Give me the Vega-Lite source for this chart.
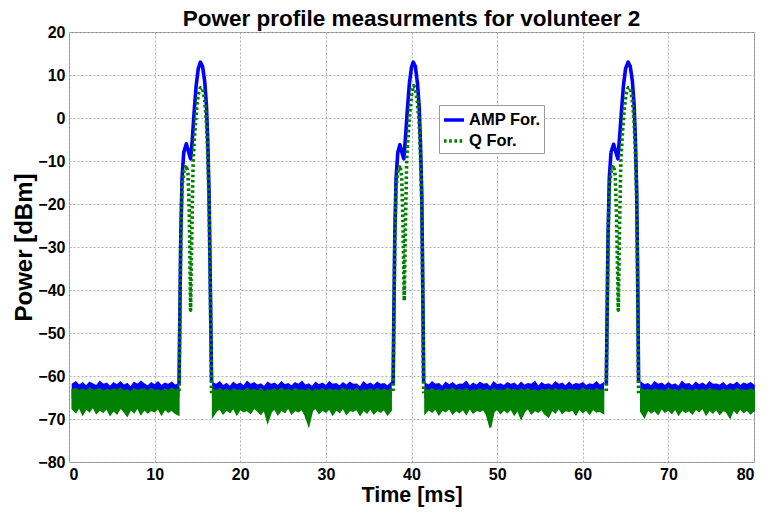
{
"$schema": "https://vega.github.io/schema/vega-lite/v6.json",
"width": 685,
"height": 430,
"autosize": {"type": "none"},
"padding": {"left": 69, "top": 32, "right": 15, "bottom": 55},
"background": "white",
"title": {"text": "Power profile measurments for volunteer 2", "font": "Liberation Sans", "fontSize": 22.5, "fontWeight": "bold", "color": "black", "anchor": "middle", "offset": -6},
"config": {
  "view": {"stroke": "#8a8a8a", "strokeWidth": 1},
  "axis": {"domain": false, "ticks": false, "grid": true, "gridColor": "#b0b0b0", "gridDash": [2, 2], "gridWidth": 1, "labelFont": "Liberation Sans", "labelFontSize": 16, "labelFontWeight": "bold", "labelColor": "black", "titleFont": "Liberation Sans", "titleFontSize": 22, "titleFontWeight": "bold", "titleColor": "black"},
  "legend": {"orient": "none", "legendX": 370, "legendY": 73, "fillColor": "white", "strokeColor": "#9a9a9a", "padding": 3, "labelFont": "Liberation Sans", "labelFontSize": 16.5, "labelFontWeight": "bold", "labelColor": "black", "symbolType": "stroke", "symbolSize": 400, "symbolStrokeWidth": 3.5, "rowPadding": 0, "labelOffset": 3}
},
"datasets": {
"noise": [
{"seg":1,"t":0.4,"bh":-61.9,"gh":-63.2,"gl":-67.6},{"seg":1,"t":0.8,"bh":-61.4,"gh":-63.0,"gl":-68.4},{"seg":1,"t":1.2,"bh":-62.2,"gh":-63.5,"gl":-67.1},{"seg":1,"t":1.6,"bh":-61.6,"gh":-63.1,"gl":-68.9},{"seg":1,"t":2.0,"bh":-62.4,"gh":-63.6,"gl":-67.5},{"seg":1,"t":2.4,"bh":-61.5,"gh":-62.9,"gl":-68.2},{"seg":1,"t":2.8,"bh":-61.9,"gh":-63.4,"gl":-67.0},{"seg":1,"t":3.2,"bh":-62.3,"gh":-63.3,"gl":-68.6},{"seg":1,"t":3.6,"bh":-61.3,"gh":-63.0,"gl":-67.8},{"seg":1,"t":4.0,"bh":-62.0,"gh":-63.7,"gl":-68.3},{"seg":1,"t":4.4,"bh":-61.7,"gh":-63.2,"gl":-67.4},{"seg":1,"t":4.8,"bh":-62.5,"gh":-63.5,"gl":-69.0},{"seg":1,"t":5.2,"bh":-61.6,"gh":-63.1,"gl":-67.9},{"seg":1,"t":5.6,"bh":-62.1,"gh":-63.4,"gl":-68.7},{"seg":1,"t":6.0,"bh":-61.4,"gh":-62.9,"gl":-67.3},{"seg":1,"t":6.4,"bh":-62.2,"gh":-63.6,"gl":-68.1},{"seg":1,"t":6.8,"bh":-61.8,"gh":-63.3,"gl":-69.2},{"seg":1,"t":7.2,"bh":-62.6,"gh":-63.8,"gl":-67.6},{"seg":1,"t":7.6,"bh":-61.5,"gh":-63.0,"gl":-68.4},{"seg":1,"t":8.0,"bh":-62.0,"gh":-63.5,"gl":-67.2},{"seg":1,"t":8.4,"bh":-61.3,"gh":-63.2,"gl":-68.8},{"seg":1,"t":8.8,"bh":-61.9,"gh":-63.1,"gl":-67.7},{"seg":1,"t":9.2,"bh":-62.4,"gh":-63.6,"gl":-68.5},{"seg":1,"t":9.6,"bh":-61.6,"gh":-63.0,"gl":-67.9},{"seg":1,"t":10.0,"bh":-62.1,"gh":-63.4,"gl":-68.2},{"seg":1,"t":10.4,"bh":-61.4,"gh":-63.3,"gl":-67.4},{"seg":1,"t":10.8,"bh":-62.3,"gh":-63.7,"gl":-68.9},{"seg":1,"t":11.2,"bh":-61.7,"gh":-63.1,"gl":-67.6},{"seg":1,"t":11.6,"bh":-62.0,"gh":-63.5,"gl":-68.3},{"seg":1,"t":12.0,"bh":-61.5,"gh":-62.9,"gl":-67.8},{"seg":1,"t":12.4,"bh":-62.2,"gh":-63.4,"gl":-68.6},{"seg":1,"t":12.8,"bh":-61.8,"gh":-63.2,"gl":-69.0},
{"seg":2,"t":16.8,"bh":-61.6,"gh":-63.1,"gl":-69.3},{"seg":2,"t":17.2,"bh":-62.0,"gh":-63.5,"gl":-68.1},{"seg":2,"t":17.6,"bh":-61.4,"gh":-63.0,"gl":-67.5},{"seg":2,"t":18.0,"bh":-62.3,"gh":-63.6,"gl":-68.7},{"seg":2,"t":18.4,"bh":-61.8,"gh":-63.2,"gl":-67.8},{"seg":2,"t":18.8,"bh":-62.5,"gh":-63.8,"gl":-68.4},{"seg":2,"t":19.2,"bh":-61.5,"gh":-63.1,"gl":-67.3},{"seg":2,"t":19.6,"bh":-62.1,"gh":-63.4,"gl":-68.9},{"seg":2,"t":20.0,"bh":-61.7,"gh":-63.3,"gl":-67.6},{"seg":2,"t":20.4,"bh":-62.4,"gh":-63.7,"gl":-68.2},{"seg":2,"t":20.8,"bh":-61.3,"gh":-62.9,"gl":-67.9},{"seg":2,"t":21.2,"bh":-62.0,"gh":-63.5,"gl":-68.6},{"seg":2,"t":21.6,"bh":-61.6,"gh":-63.2,"gl":-67.4},{"seg":2,"t":22.0,"bh":-62.2,"gh":-63.6,"gl":-68.0},{"seg":2,"t":22.4,"bh":-61.9,"gh":-63.0,"gl":-68.8},{"seg":2,"t":22.8,"bh":-62.5,"gh":-63.8,"gl":-67.7},{"seg":2,"t":23.2,"bh":-61.5,"gh":-63.3,"gl":-70.6},{"seg":2,"t":23.6,"bh":-62.0,"gh":-63.4,"gl":-68.3},{"seg":2,"t":24.0,"bh":-61.7,"gh":-63.1,"gl":-67.5},{"seg":2,"t":24.4,"bh":-62.3,"gh":-63.6,"gl":-68.9},{"seg":2,"t":24.8,"bh":-61.4,"gh":-62.9,"gl":-67.8},{"seg":2,"t":25.2,"bh":-62.1,"gh":-63.5,"gl":-68.4},{"seg":2,"t":25.6,"bh":-61.8,"gh":-63.2,"gl":-67.2},{"seg":2,"t":26.0,"bh":-62.4,"gh":-63.7,"gl":-68.7},{"seg":2,"t":26.4,"bh":-61.6,"gh":-63.0,"gl":-67.9},{"seg":2,"t":26.8,"bh":-62.0,"gh":-63.4,"gl":-68.2},{"seg":2,"t":27.2,"bh":-61.3,"gh":-63.3,"gl":-67.6},{"seg":2,"t":27.6,"bh":-62.2,"gh":-63.6,"gl":-69.1},{"seg":2,"t":28.0,"bh":-61.9,"gh":-63.1,"gl":-71.4},{"seg":2,"t":28.4,"bh":-62.5,"gh":-63.8,"gl":-68.0},{"seg":2,"t":28.8,"bh":-61.5,"gh":-63.2,"gl":-67.4},{"seg":2,"t":29.2,"bh":-62.1,"gh":-63.5,"gl":-68.6},{"seg":2,"t":29.6,"bh":-61.7,"gh":-63.0,"gl":-67.8},{"seg":2,"t":30.0,"bh":-62.3,"gh":-63.7,"gl":-68.3},{"seg":2,"t":30.4,"bh":-61.4,"gh":-63.1,"gl":-67.5},{"seg":2,"t":30.8,"bh":-62.0,"gh":-63.4,"gl":-68.9},{"seg":2,"t":31.2,"bh":-61.8,"gh":-63.3,"gl":-67.7},{"seg":2,"t":31.6,"bh":-62.4,"gh":-63.6,"gl":-68.4},{"seg":2,"t":32.0,"bh":-61.6,"gh":-62.9,"gl":-67.3},{"seg":2,"t":32.4,"bh":-62.2,"gh":-63.5,"gl":-68.8},{"seg":2,"t":32.8,"bh":-61.5,"gh":-63.2,"gl":-67.9},{"seg":2,"t":33.2,"bh":-62.0,"gh":-63.6,"gl":-68.1},{"seg":2,"t":33.6,"bh":-61.9,"gh":-63.0,"gl":-67.6},{"seg":2,"t":34.0,"bh":-62.6,"gh":-63.8,"gl":-69.0},{"seg":2,"t":34.4,"bh":-61.4,"gh":-63.3,"gl":-67.8},{"seg":2,"t":34.8,"bh":-62.1,"gh":-63.4,"gl":-68.5},{"seg":2,"t":35.2,"bh":-61.7,"gh":-63.1,"gl":-67.4},{"seg":2,"t":35.6,"bh":-62.3,"gh":-63.7,"gl":-68.7},{"seg":2,"t":36.0,"bh":-61.5,"gh":-63.0,"gl":-67.9},{"seg":2,"t":36.4,"bh":-62.0,"gh":-63.5,"gl":-68.3},{"seg":2,"t":36.8,"bh":-61.8,"gh":-63.2,"gl":-67.6},{"seg":2,"t":37.2,"bh":-62.4,"gh":-63.6,"gl":-68.9},{"seg":2,"t":37.6,"bh":-61.6,"gh":-63.1,"gl":-68.0},
{"seg":3,"t":41.6,"bh":-61.7,"gh":-63.2,"gl":-68.6},{"seg":3,"t":42.0,"bh":-62.2,"gh":-63.5,"gl":-67.7},{"seg":3,"t":42.4,"bh":-61.4,"gh":-63.0,"gl":-68.3},{"seg":3,"t":42.8,"bh":-62.0,"gh":-63.6,"gl":-67.5},{"seg":3,"t":43.2,"bh":-61.8,"gh":-63.3,"gl":-68.9},{"seg":3,"t":43.6,"bh":-62.5,"gh":-63.7,"gl":-67.8},{"seg":3,"t":44.0,"bh":-61.5,"gh":-63.1,"gl":-68.2},{"seg":3,"t":44.4,"bh":-62.1,"gh":-63.4,"gl":-67.4},{"seg":3,"t":44.8,"bh":-61.6,"gh":-62.9,"gl":-68.7},{"seg":3,"t":45.2,"bh":-62.3,"gh":-63.6,"gl":-67.9},{"seg":3,"t":45.6,"bh":-61.9,"gh":-63.2,"gl":-68.4},{"seg":3,"t":46.0,"bh":-62.0,"gh":-63.5,"gl":-67.6},{"seg":3,"t":46.4,"bh":-61.3,"gh":-63.0,"gl":-68.8},{"seg":3,"t":46.8,"bh":-62.4,"gh":-63.8,"gl":-67.3},{"seg":3,"t":47.2,"bh":-61.7,"gh":-63.3,"gl":-68.5},{"seg":3,"t":47.6,"bh":-62.2,"gh":-63.4,"gl":-67.9},{"seg":3,"t":48.0,"bh":-61.5,"gh":-63.1,"gl":-68.1},{"seg":3,"t":48.4,"bh":-62.0,"gh":-63.6,"gl":-67.7},{"seg":3,"t":48.8,"bh":-61.8,"gh":-63.2,"gl":-69.0},{"seg":3,"t":49.2,"bh":-62.6,"gh":-63.7,"gl":-72.0},{"seg":3,"t":49.6,"bh":-61.4,"gh":-63.0,"gl":-68.3},{"seg":3,"t":50.0,"bh":-62.1,"gh":-63.5,"gl":-67.6},{"seg":3,"t":50.4,"bh":-61.9,"gh":-63.3,"gl":-68.6},{"seg":3,"t":50.8,"bh":-62.3,"gh":-63.6,"gl":-67.8},{"seg":3,"t":51.2,"bh":-61.6,"gh":-62.9,"gl":-68.4},{"seg":3,"t":51.6,"bh":-62.0,"gh":-63.4,"gl":-67.5},{"seg":3,"t":52.0,"bh":-61.7,"gh":-63.2,"gl":-68.9},{"seg":3,"t":52.4,"bh":-62.4,"gh":-63.7,"gl":-67.7},{"seg":3,"t":52.8,"bh":-61.5,"gh":-63.1,"gl":-69.8},{"seg":3,"t":53.2,"bh":-62.2,"gh":-63.5,"gl":-68.2},{"seg":3,"t":53.6,"bh":-61.8,"gh":-63.0,"gl":-67.4},{"seg":3,"t":54.0,"bh":-62.0,"gh":-63.6,"gl":-68.7},{"seg":3,"t":54.4,"bh":-61.3,"gh":-63.3,"gl":-67.9},{"seg":3,"t":54.8,"bh":-62.5,"gh":-63.8,"gl":-68.3},{"seg":3,"t":55.2,"bh":-61.6,"gh":-63.2,"gl":-67.6},{"seg":3,"t":55.6,"bh":-62.1,"gh":-63.4,"gl":-68.8},{"seg":3,"t":56.0,"bh":-61.9,"gh":-63.1,"gl":-69.4},{"seg":3,"t":56.4,"bh":-62.3,"gh":-63.6,"gl":-67.8},{"seg":3,"t":56.8,"bh":-61.4,"gh":-63.0,"gl":-68.5},{"seg":3,"t":57.2,"bh":-62.0,"gh":-63.5,"gl":-67.3},{"seg":3,"t":57.6,"bh":-61.7,"gh":-63.2,"gl":-68.6},{"seg":3,"t":58.0,"bh":-62.4,"gh":-63.7,"gl":-67.9},{"seg":3,"t":58.4,"bh":-61.5,"gh":-63.1,"gl":-68.2},{"seg":3,"t":58.8,"bh":-62.2,"gh":-63.4,"gl":-67.7},{"seg":3,"t":59.2,"bh":-61.8,"gh":-63.3,"gl":-68.9},{"seg":3,"t":59.6,"bh":-62.0,"gh":-63.6,"gl":-67.5},{"seg":3,"t":60.0,"bh":-61.6,"gh":-62.9,"gl":-68.4},{"seg":3,"t":60.4,"bh":-62.3,"gh":-63.5,"gl":-67.8},{"seg":3,"t":60.8,"bh":-61.9,"gh":-63.2,"gl":-68.7},{"seg":3,"t":61.2,"bh":-62.1,"gh":-63.6,"gl":-67.6},{"seg":3,"t":61.6,"bh":-61.4,"gh":-63.0,"gl":-68.3},{"seg":3,"t":62.0,"bh":-62.2,"gh":-63.4,"gl":-68.1},{"seg":3,"t":62.4,"bh":-61.7,"gh":-63.3,"gl":-68.6},
{"seg":4,"t":66.8,"bh":-61.5,"gh":-63.0,"gl":-68.2},{"seg":4,"t":67.2,"bh":-62.1,"gh":-63.5,"gl":-69.5},{"seg":4,"t":67.6,"bh":-61.8,"gh":-63.2,"gl":-67.7},{"seg":4,"t":68.0,"bh":-62.4,"gh":-63.6,"gl":-68.5},{"seg":4,"t":68.4,"bh":-61.4,"gh":-63.1,"gl":-67.9},{"seg":4,"t":68.8,"bh":-62.0,"gh":-63.4,"gl":-68.8},{"seg":4,"t":69.2,"bh":-61.7,"gh":-63.3,"gl":-67.4},{"seg":4,"t":69.6,"bh":-62.3,"gh":-63.7,"gl":-68.3},{"seg":4,"t":70.0,"bh":-61.6,"gh":-62.9,"gl":-67.8},{"seg":4,"t":70.4,"bh":-62.2,"gh":-63.5,"gl":-68.6},{"seg":4,"t":70.8,"bh":-61.9,"gh":-63.2,"gl":-67.5},{"seg":4,"t":71.2,"bh":-62.5,"gh":-63.8,"gl":-68.9},{"seg":4,"t":71.6,"bh":-61.3,"gh":-63.0,"gl":-67.7},{"seg":4,"t":72.0,"bh":-62.0,"gh":-63.4,"gl":-68.4},{"seg":4,"t":72.4,"bh":-61.8,"gh":-63.3,"gl":-67.9},{"seg":4,"t":72.8,"bh":-62.4,"gh":-63.6,"gl":-68.7},{"seg":4,"t":73.2,"bh":-61.5,"gh":-63.1,"gl":-67.6},{"seg":4,"t":73.6,"bh":-62.1,"gh":-63.5,"gl":-68.2},{"seg":4,"t":74.0,"bh":-61.7,"gh":-63.2,"gl":-67.3},{"seg":4,"t":74.4,"bh":-62.3,"gh":-63.6,"gl":-68.9},{"seg":4,"t":74.8,"bh":-61.4,"gh":-63.0,"gl":-67.8},{"seg":4,"t":75.2,"bh":-62.0,"gh":-63.4,"gl":-68.5},{"seg":4,"t":75.6,"bh":-61.9,"gh":-63.3,"gl":-67.6},{"seg":4,"t":76.0,"bh":-62.2,"gh":-63.7,"gl":-68.8},{"seg":4,"t":76.4,"bh":-61.6,"gh":-63.1,"gl":-67.9},{"seg":4,"t":76.8,"bh":-62.4,"gh":-63.5,"gl":-68.3},{"seg":4,"t":77.2,"bh":-61.8,"gh":-63.2,"gl":-69.6},{"seg":4,"t":77.6,"bh":-62.1,"gh":-63.6,"gl":-67.7},{"seg":4,"t":78.0,"bh":-61.5,"gh":-63.0,"gl":-68.6},{"seg":4,"t":78.4,"bh":-62.3,"gh":-63.4,"gl":-67.5},{"seg":4,"t":78.8,"bh":-61.7,"gh":-63.3,"gl":-68.4},{"seg":4,"t":79.2,"bh":-62.0,"gh":-63.5,"gl":-67.8},{"seg":4,"t":79.6,"bh":-61.6,"gh":-63.1,"gl":-68.7},{"seg":4,"t":80.0,"bh":-62.2,"gh":-63.4,"gl":-68.0}
],
"pulse": [
{"s":"AMP For.","p":1,"t":12.85,"v":-62},{"s":"AMP For.","p":1,"t":12.95,"v":-45},{"s":"AMP For.","p":1,"t":13.05,"v":-28},{"s":"AMP For.","p":1,"t":13.2,"v":-14},{"s":"AMP For.","p":1,"t":13.4,"v":-8},{"s":"AMP For.","p":1,"t":13.7,"v":-6},{"s":"AMP For.","p":1,"t":13.95,"v":-7.8},{"s":"AMP For.","p":1,"t":14.2,"v":-9.5},{"s":"AMP For.","p":1,"t":14.4,"v":-5},{"s":"AMP For.","p":1,"t":14.6,"v":1},{"s":"AMP For.","p":1,"t":14.85,"v":7.5},{"s":"AMP For.","p":1,"t":15.1,"v":11.5},{"s":"AMP For.","p":1,"t":15.35,"v":13},{"s":"AMP For.","p":1,"t":15.6,"v":12},{"s":"AMP For.","p":1,"t":15.85,"v":8.5},{"s":"AMP For.","p":1,"t":16.05,"v":3},{"s":"AMP For.","p":1,"t":16.2,"v":-5},{"s":"AMP For.","p":1,"t":16.35,"v":-17},{"s":"AMP For.","p":1,"t":16.5,"v":-38},{"s":"AMP For.","p":1,"t":16.65,"v":-61.5},
{"s":"AMP For.","p":2,"t":37.85,"v":-62},{"s":"AMP For.","p":2,"t":37.95,"v":-44},{"s":"AMP For.","p":2,"t":38.05,"v":-27},{"s":"AMP For.","p":2,"t":38.2,"v":-14},{"s":"AMP For.","p":2,"t":38.4,"v":-8},{"s":"AMP For.","p":2,"t":38.65,"v":-6.2},{"s":"AMP For.","p":2,"t":38.85,"v":-7.8},{"s":"AMP For.","p":2,"t":39.1,"v":-9.5},{"s":"AMP For.","p":2,"t":39.3,"v":-4.5},{"s":"AMP For.","p":2,"t":39.5,"v":1.5},{"s":"AMP For.","p":2,"t":39.75,"v":8},{"s":"AMP For.","p":2,"t":40.0,"v":11.8},{"s":"AMP For.","p":2,"t":40.2,"v":13},{"s":"AMP For.","p":2,"t":40.45,"v":12},{"s":"AMP For.","p":2,"t":40.7,"v":8},{"s":"AMP For.","p":2,"t":40.9,"v":2.5},{"s":"AMP For.","p":2,"t":41.05,"v":-6},{"s":"AMP For.","p":2,"t":41.2,"v":-18},{"s":"AMP For.","p":2,"t":41.32,"v":-40},{"s":"AMP For.","p":2,"t":41.42,"v":-61.5},
{"s":"AMP For.","p":3,"t":62.75,"v":-62},{"s":"AMP For.","p":3,"t":62.85,"v":-45},{"s":"AMP For.","p":3,"t":62.95,"v":-28},{"s":"AMP For.","p":3,"t":63.1,"v":-14},{"s":"AMP For.","p":3,"t":63.3,"v":-8},{"s":"AMP For.","p":3,"t":63.6,"v":-6.1},{"s":"AMP For.","p":3,"t":63.85,"v":-7.8},{"s":"AMP For.","p":3,"t":64.1,"v":-9.5},{"s":"AMP For.","p":3,"t":64.3,"v":-4.5},{"s":"AMP For.","p":3,"t":64.5,"v":1},{"s":"AMP For.","p":3,"t":64.75,"v":7.5},{"s":"AMP For.","p":3,"t":65.0,"v":11.5},{"s":"AMP For.","p":3,"t":65.3,"v":13},{"s":"AMP For.","p":3,"t":65.55,"v":12},{"s":"AMP For.","p":3,"t":65.8,"v":8.5},{"s":"AMP For.","p":3,"t":66.0,"v":3},{"s":"AMP For.","p":3,"t":66.15,"v":-5},{"s":"AMP For.","p":3,"t":66.3,"v":-17},{"s":"AMP For.","p":3,"t":66.42,"v":-38},{"s":"AMP For.","p":3,"t":66.52,"v":-61.5},
{"s":"Q For.","p":1,"t":12.85,"v":-63.5},{"s":"Q For.","p":1,"t":12.95,"v":-46},{"s":"Q For.","p":1,"t":13.05,"v":-29},{"s":"Q For.","p":1,"t":13.2,"v":-16},{"s":"Q For.","p":1,"t":13.4,"v":-12.5},{"s":"Q For.","p":1,"t":13.7,"v":-11},{"s":"Q For.","p":1,"t":13.9,"v":-13},{"s":"Q For.","p":1,"t":14.05,"v":-22},{"s":"Q For.","p":1,"t":14.2,"v":-44.7},{"s":"Q For.","p":1,"t":14.35,"v":-26},{"s":"Q For.","p":1,"t":14.5,"v":-10},{"s":"Q For.","p":1,"t":14.7,"v":-3},{"s":"Q For.","p":1,"t":14.9,"v":2},{"s":"Q For.","p":1,"t":15.1,"v":5.5},{"s":"Q For.","p":1,"t":15.35,"v":7},{"s":"Q For.","p":1,"t":15.6,"v":7},{"s":"Q For.","p":1,"t":15.85,"v":4},{"s":"Q For.","p":1,"t":16.05,"v":-1},{"s":"Q For.","p":1,"t":16.2,"v":-8},{"s":"Q For.","p":1,"t":16.35,"v":-19},{"s":"Q For.","p":1,"t":16.5,"v":-40},{"s":"Q For.","p":1,"t":16.65,"v":-64},
{"s":"Q For.","p":2,"t":37.85,"v":-63.5},{"s":"Q For.","p":2,"t":37.95,"v":-46},{"s":"Q For.","p":2,"t":38.05,"v":-29},{"s":"Q For.","p":2,"t":38.2,"v":-16},{"s":"Q For.","p":2,"t":38.4,"v":-12.5},{"s":"Q For.","p":2,"t":38.65,"v":-11},{"s":"Q For.","p":2,"t":38.85,"v":-13.5},{"s":"Q For.","p":2,"t":39.0,"v":-24},{"s":"Q For.","p":2,"t":39.15,"v":-42.5},{"s":"Q For.","p":2,"t":39.3,"v":-24},{"s":"Q For.","p":2,"t":39.45,"v":-9},{"s":"Q For.","p":2,"t":39.65,"v":-3},{"s":"Q For.","p":2,"t":39.85,"v":2.5},{"s":"Q For.","p":2,"t":40.05,"v":6},{"s":"Q For.","p":2,"t":40.25,"v":7.5},{"s":"Q For.","p":2,"t":40.45,"v":7},{"s":"Q For.","p":2,"t":40.7,"v":3.5},{"s":"Q For.","p":2,"t":40.9,"v":-1.5},{"s":"Q For.","p":2,"t":41.05,"v":-9},{"s":"Q For.","p":2,"t":41.2,"v":-20},{"s":"Q For.","p":2,"t":41.32,"v":-41},{"s":"Q For.","p":2,"t":41.42,"v":-64},
{"s":"Q For.","p":3,"t":62.75,"v":-63.5},{"s":"Q For.","p":3,"t":62.85,"v":-46},{"s":"Q For.","p":3,"t":62.95,"v":-29},{"s":"Q For.","p":3,"t":63.1,"v":-16},{"s":"Q For.","p":3,"t":63.3,"v":-12.5},{"s":"Q For.","p":3,"t":63.6,"v":-11},{"s":"Q For.","p":3,"t":63.8,"v":-13.5},{"s":"Q For.","p":3,"t":63.95,"v":-23},{"s":"Q For.","p":3,"t":64.15,"v":-44.7},{"s":"Q For.","p":3,"t":64.3,"v":-25},{"s":"Q For.","p":3,"t":64.45,"v":-10},{"s":"Q For.","p":3,"t":64.65,"v":-3},{"s":"Q For.","p":3,"t":64.85,"v":2},{"s":"Q For.","p":3,"t":65.05,"v":5.5},{"s":"Q For.","p":3,"t":65.3,"v":7},{"s":"Q For.","p":3,"t":65.55,"v":7},{"s":"Q For.","p":3,"t":65.8,"v":4},{"s":"Q For.","p":3,"t":66.0,"v":-1},{"s":"Q For.","p":3,"t":66.15,"v":-8},{"s":"Q For.","p":3,"t":66.3,"v":-19},{"s":"Q For.","p":3,"t":66.42,"v":-40},{"s":"Q For.","p":3,"t":66.52,"v":-64}
]
},
"layer": [
{"data": {"name": "noise"}, "mark": {"type": "area", "color": "#0000ff", "stroke": "#0000ff", "strokeWidth": 1.5, "interpolate": "linear"},
 "encoding": {
  "x": {"field": "t", "type": "quantitative", "scale": {"domain": [0, 80], "nice": false}, "axis": {"title": "Time [ms]", "values": [0,10,20,30,40,50,60,70,80], "labelPadding": 4, "titlePadding": 2, "titleFontSize": 21.5}},
  "y": {"field": "bh", "type": "quantitative", "scale": {"domain": [-80, 20], "nice": false}, "axis": {"title": "Power [dBm]", "values": [-80,-70,-60,-50,-40,-30,-20,-10,0,10,20], "labelPadding": 4, "titlePadding": 1, "titleFontSize": 24}},
  "y2": {"datum": -65},
  "detail": {"field": "seg"}
 }},
{"data": {"name": "noise"}, "mark": {"type": "area", "color": "#008000", "stroke": "#008000", "strokeWidth": 2, "interpolate": "linear"},
 "encoding": {
  "x": {"field": "t", "type": "quantitative"},
  "y": {"field": "gh", "type": "quantitative"},
  "y2": {"field": "gl"},
  "detail": {"field": "seg"}
 }},
{"data": {"name": "pulse"}, "mark": {"type": "line", "strokeWidth": 3.6, "strokeCap": "butt", "strokeJoin": "round"},
 "encoding": {
  "x": {"field": "t", "type": "quantitative"},
  "y": {"field": "v", "type": "quantitative"},
  "detail": {"field": "p"},
  "order": {"field": "t"},
  "color": {"field": "s", "type": "nominal", "scale": {"domain": ["AMP For.", "Q For."], "range": ["#0000ff", "#008000"]}, "legend": {"title": null}},
  "strokeDash": {"field": "s", "type": "nominal", "scale": {"domain": ["AMP For.", "Q For."], "range": [[1, 0], [2.6, 2.6]]}, "legend": {"title": null}}
 }}
]
}
